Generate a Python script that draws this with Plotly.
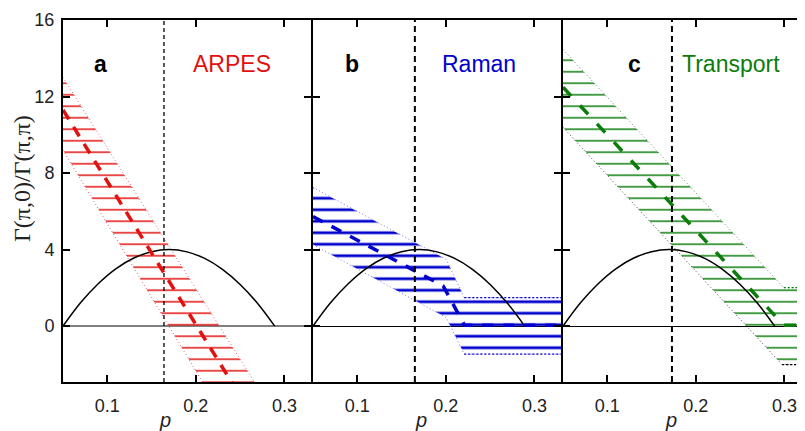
import plotly.graph_objects as go

# ---------------- data ----------------
p_ticks = [0.1, 0.2, 0.3]
p_tick_labels = ["0.1", "0.2", "0.3"]
g_ticks = [0, 4, 8, 12, 16]
g_tick_labels = ["0", "4", "8", "12", "16"]

# superconducting dome (same in every panel)
dome_p = [0.05, 0.07, 0.09, 0.11, 0.13, 0.15, 0.17, 0.19, 0.21, 0.23, 0.25, 0.27, 0.289]
dome_g = [0.0, 1.23, 2.23, 3.01, 3.56, 3.89, 4.0, 3.88, 3.54, 2.97, 2.18, 1.17, 0.0]

# critical doping markers
pc = [0.164, 0.165, 0.173]

# ARPES band (panel a)
arpes_upper_p = [0.05, 0.274]
arpes_upper_g = [13.0, -3.5]
arpes_lower_p = [0.05, 0.215]
arpes_lower_g = [9.2, -3.5]
arpes_mid_p = [0.05, 0.248]
arpes_mid_g = [11.3, -3.5]

# Raman band (panel b)
raman_upper_p = [0.05, 0.2003, 0.2208, 0.335]
raman_upper_g = [7.25, 3.49, 1.49, 1.49]
raman_lower_p = [0.05, 0.2003, 0.2208, 0.335]
raman_lower_g = [4.26, 0.45, -1.46, -1.46]
raman_mid_p = [0.05, 0.197, 0.221, 0.335]
raman_mid_g = [5.73, 2.10, 0.05, 0.05]

# Transport band (panel c)
trans_upper_p = [0.05, 0.2992, 0.335]
trans_upper_g = [14.46, 2.01, 2.01]
trans_lower_p = [0.05, 0.2973, 0.335]
trans_lower_g = [10.39, -2.01, -2.01]
trans_mid_p = [0.05, 0.2992, 0.335]
trans_mid_g = [12.49, 0.05, 0.05]

panel_letters = ["a", "b", "c"]
panel_names = ["ARPES", "Raman", "Transport"]
letter_p = [0.0926, 0.0939, 0.1312]
name_p = [0.2404, 0.2376, 0.2395]
label_g = 13.69
pc_label_p = [0.165, 0.172, 0.172]

# ---------------- styles ----------------
RED = "#e31010"
BLUE = "#0000cc"
GREEN = "#0b7d0b"
FONT = "Liberation Sans, Arial, sans-serif"

fig = go.Figure()

axes = [("x", "y"), ("x2", "y2"), ("x3", "y3")]


def band(ax, up_p, up_g, lo_p, lo_g, mid_p, mid_g, color, solidity,
         up_dot, lo_dot, mid_dash, hatch_size=11.5):
    xa, ya = ax
    fig.add_trace(go.Scatter(
        x=up_p + lo_p[::-1], y=up_g + lo_g[::-1], xaxis=xa, yaxis=ya,
        mode="lines", fill="toself", line=dict(width=0, color="rgba(0,0,0,0)"),
        fillcolor="rgba(0,0,0,0)",
        fillpattern=dict(shape="-", size=hatch_size, solidity=solidity,
                         fgcolor=color, bgcolor="rgba(0,0,0,0)", fillmode="replace"),
        hoverinfo="skip", showlegend=False))
    fig.add_trace(go.Scatter(x=up_p, y=up_g, xaxis=xa, yaxis=ya, mode="lines",
                             line=dict(color=up_dot, width=1, dash="1px,2.5px"),
                             showlegend=False, hoverinfo="skip"))
    fig.add_trace(go.Scatter(x=lo_p, y=lo_g, xaxis=xa, yaxis=ya, mode="lines",
                             line=dict(color=lo_dot, width=1, dash="1px,2.5px"),
                             showlegend=False, hoverinfo="skip"))
    fig.add_trace(go.Scatter(x=dome_p, y=dome_g, xaxis=xa, yaxis=ya, mode="lines",
                             line=dict(color="black", width=1.5, shape="spline"),
                             showlegend=False, hoverinfo="skip"))
    fig.add_trace(go.Scatter(x=mid_p, y=mid_g, xaxis=xa, yaxis=ya, mode="lines",
                             line=dict(color=color, width=3.5, dash=mid_dash),
                             showlegend=False, hoverinfo="skip"))


band(axes[0], arpes_upper_p, arpes_upper_g, arpes_lower_p, arpes_lower_g,
     arpes_mid_p, arpes_mid_g, RED, 0.13, "#e8607a", "#e8607a", "11px,9px")
band(axes[1], raman_upper_p, raman_upper_g, raman_lower_p, raman_lower_g,
     raman_mid_p, raman_mid_g, BLUE, 0.24, "#7878f0", "#7878f0", "11px,10px")
band(axes[2], trans_upper_p, trans_upper_g, trans_lower_p, trans_lower_g,
     trans_mid_p, trans_mid_g, GREEN, 0.13, "#5a955a", "#444444", "12px,13px")

# darker dotted flat parts of the Raman and Transport bands
fig.add_trace(go.Scatter(x=raman_upper_p[-2:], y=raman_upper_g[-2:], xaxis="x2", yaxis="y2",
                         mode="lines", line=dict(color=BLUE, width=1.2, dash="2px,2px"),
                         showlegend=False, hoverinfo="skip"))
fig.add_trace(go.Scatter(x=raman_lower_p[-2:], y=raman_lower_g[-2:], xaxis="x2", yaxis="y2",
                         mode="lines", line=dict(color=BLUE, width=1.2, dash="2px,2px"),
                         showlegend=False, hoverinfo="skip"))
fig.add_trace(go.Scatter(x=trans_upper_p[-2:], y=trans_upper_g[-2:], xaxis="x3", yaxis="y3",
                         mode="lines", line=dict(color=GREEN, width=1.2, dash="2px,2px"),
                         showlegend=False, hoverinfo="skip"))
fig.add_trace(go.Scatter(x=trans_lower_p[-2:], y=trans_lower_g[-2:], xaxis="x3", yaxis="y3",
                         mode="lines", line=dict(color="black", width=1.2, dash="2px,2px"),
                         showlegend=False, hoverinfo="skip"))

# vertical dashed lines at critical doping
vl_styles = [dict(width=1.3, dash="4px,3px"), dict(width=2, dash="6px,4px"), dict(width=2, dash="6px,4px")]
for i, (xa, ya) in enumerate(axes):
    fig.add_shape(type="line", xref=xa, yref=ya + " domain", x0=pc[i], x1=pc[i], y0=0, y1=1,
                  line=dict(color="black", **vl_styles[i]), layer="above")

# axes (the page body has an 8 px margin, so the figure is 797 x 423)
W, H = 797, 423
ML, MT, MB = 55, 12, 49
PW = W - ML
domains = [[0.0, 248 / PW], [250 / PW, 498 / PW], [500 / PW, 1.0]]
x_ranges = [[0.05, 0.33], [0.05, 0.33], [0.05, 0.3232]]
tick_font = dict(family=FONT, size=18, color="#222222")
for i in range(3):
    sfx = "" if i == 0 else str(i + 1)
    fig.update_layout(**{
        "xaxis" + sfx: dict(domain=domains[i], range=x_ranges[i], anchor="y" + sfx,
                            tickvals=p_ticks, ticktext=p_tick_labels, ticks="inside",
                            ticklen=7, tickwidth=2, tickcolor="black",
                            showline=True, linewidth=2, linecolor="black",
                            mirror="ticks", showgrid=False,
                            zeroline=False, tickfont=tick_font, ticklabelstandoff=6),
        "yaxis" + sfx: dict(domain=[0, 1], range=[-2.92, 16], anchor="x" + sfx,
                            tickvals=g_ticks, ticktext=g_tick_labels, ticks="inside",
                            ticklen=7, tickwidth=2, tickcolor="black",
                            showline=True, linewidth=2, linecolor="black",
                            mirror=("ticks" if i < 2 else False), showgrid=False,
                            showticklabels=(i == 0), tickfont=tick_font,
                            ticklabelstandoff=3,
                            zeroline=True,
                            zerolinecolor=("#808080" if i == 0 else "black"),
                            zerolinewidth=(2 if i == 0 else 1)),
    })

annotations = []
name_colors = [RED, BLUE, GREEN]
for i, (xa, ya) in enumerate(axes):
    annotations.append(dict(x=letter_p[i], y=label_g, xref=xa, yref=ya, showarrow=False,
                            text="<b>" + panel_letters[i] + "</b>",
                            font=dict(family=FONT, size=23, color="black"),
                            xanchor="center", yanchor="middle"))
    annotations.append(dict(x=name_p[i], y=label_g, xref=xa, yref=ya, showarrow=False,
                            text=panel_names[i],
                            font=dict(family=FONT, size=23, color=name_colors[i]),
                            xanchor="center", yanchor="middle"))
    annotations.append(dict(x=pc_label_p[i], y=-0.105, xref=xa, yref="paper", showarrow=False,
                            text="<i>p</i>", font=dict(family=FONT, size=20, color="#222222"),
                            xanchor="center", yanchor="middle"))
annotations.append(dict(x=(22 - 8 - ML) / PW, y=(382 - 179) / (H - MT - MB), xref="paper",
                        yref="paper", showarrow=False,
                        text="Γ(π,0)/Γ(π,π)", textangle=-90,
                        font=dict(family="Liberation Serif, Times New Roman, serif", size=24,
                                  color="#222222"),
                        xanchor="center", yanchor="middle"))

fig.update_layout(width=W, height=H, autosize=False,
                  margin=dict(l=ML, r=0, t=MT, b=MB),
                  paper_bgcolor="white", plot_bgcolor="white",
                  showlegend=False, annotations=annotations)

fig.write_html("out.html")
